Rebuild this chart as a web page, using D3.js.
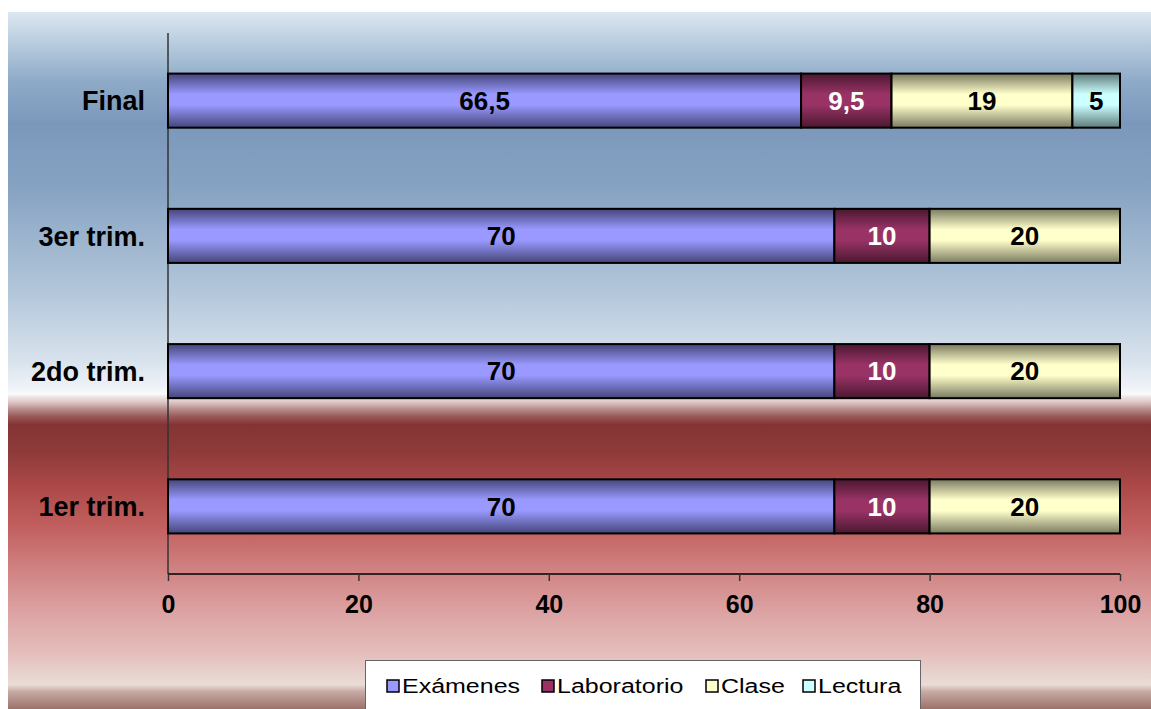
<!DOCTYPE html>
<html><head><meta charset="utf-8">
<script src="https://cdn.jsdelivr.net/npm/d3@7"></script>
<style>body{margin:0;background:#fff}svg{display:block;font-family:Arial,"Liberation Sans",sans-serif}</style>
</head><body><svg id="c" width="1151" height="709"></svg>
<script>
const categories = ["Final","3er trim.","2do trim.","1er trim."];
const seriesNames = ["Exámenes","Laboratorio","Clase","Lectura"];
const examenes = [66.5,70,70,70];
const laboratorio = [9.5,10,10,10];
const clase = [19,20,20,20];
const lectura = [5,0,0,0];
const xTicks = [0,20,40,60,80,100];
const valueLabels = [["66,5","70","70","70"],["9,5","10","10","10"],["19","20","20","20"],["5","","",""]];

const colors = ["#9999ff","#993366","#ffffcc","#ccffff"];
const darks = ["#45457a","#4a1830","#7a7a60","#5e7a7a"];
const labelColors = ["#000","#fff","#000","#000"];

const svg = d3.select("#c");
const defs = svg.append("defs");

const bg = defs.append("linearGradient").attr("id","bg").attr("x1",0).attr("y1",0).attr("x2",0).attr("y2",1);
const bgStops = [[0,"#dce7f1"],[0.04,"#bccfe0"],[0.1,"#8eaac8"],[0.16,"#7b98bc"],[0.25,"#86a2c2"],[0.4,"#b2c6da"],[0.5,"#d8e2ec"],[0.54,"#f0f3f8"],[0.5485,"#fafbfd"],[0.55,"#f4eeee"],[0.56,"#dcc4c4"],[0.57,"#b88c8c"],[0.58,"#9a5a5a"],[0.592,"#843434"],[0.63,"#8e3a3a"],[0.68,"#ac4848"],[0.74,"#c26060"],[0.8,"#d08282"],[0.86,"#dca2a2"],[0.92,"#e4bebc"],[0.965,"#eadcd6"],[0.975,"#c8aaa4"],[1,"#9a726a"]];
bgStops.forEach(s=>bg.append("stop").attr("offset",s[0]).attr("stop-color",s[1]));
svg.append("rect").attr("x",8).attr("y",12).attr("width",1143).attr("height",697).attr("fill","url(#bg)");

colors.forEach((c,i)=>{
  const g = defs.append("linearGradient").attr("id","g"+i).attr("x1",0).attr("y1",0).attr("x2",0).attr("y2",1);
  g.append("stop").attr("offset",0).attr("stop-color",darks[i]);
  g.append("stop").attr("offset",0.38).attr("stop-color",c);
  g.append("stop").attr("offset",0.58).attr("stop-color",c);
  g.append("stop").attr("offset",1).attr("stop-color",darks[i]);
});

const x = d3.scaleLinear().domain([0,100]).range([168,1120]);
const y = d3.scaleBand().domain(categories).range([33,574]).paddingInner(0.6).paddingOuter(0.3);

const series = [examenes,laboratorio,clase,lectura];
const stackData = categories.map((c,j)=>{ const o={cat:c}; seriesNames.forEach((s,i)=>o[s]=series[i][j]); return o;});
const stacked = d3.stack().keys(seriesNames)(stackData);

svg.append("line").attr("x1",x(0)).attr("x2",x(0)).attr("y1",33).attr("y2",574).attr("stroke","#333").attr("stroke-width",1.5);

stacked.forEach((layer,i)=>{
  const g = svg.append("g");
  layer.forEach((d,j)=>{
    if(d[1]-d[0]<=0) return;
    g.append("rect").attr("x",x(d[0])).attr("y",y(d.data.cat)).attr("width",x(d[1])-x(d[0])).attr("height",y.bandwidth())
      .attr("fill","url(#g"+i+")").attr("stroke","#000").attr("stroke-width",2);
    g.append("text").attr("x",(x(d[0])+x(d[1]))/2).attr("y",y(d.data.cat)+y.bandwidth()/2).attr("dy","0.36em")
      .attr("text-anchor","middle").attr("font-weight","bold").attr("font-size",26).attr("fill",labelColors[i]).text(valueLabels[i][j]);
  });
});

const xa = svg.append("g").attr("transform","translate(0,574)").call(d3.axisBottom(x).tickValues(xTicks).tickSize(7).tickPadding(14).tickFormat(d3.format("d")));
xa.select(".domain").attr("stroke","#000").attr("stroke-width",1.5).attr("d","M168,0H1120");
xa.selectAll(".tick line").attr("stroke","#333").attr("stroke-width",1.5);
xa.selectAll(".tick text").attr("font-size",25).attr("font-weight","bold").attr("fill","#000").attr("font-family","Arial,'Liberation Sans',sans-serif");

svg.append("g").selectAll("text").data(categories).join("text")
  .attr("x",145).attr("y",d=>y(d)+y.bandwidth()/2).attr("dy","0.36em").attr("text-anchor","end")
  .attr("font-weight","bold").attr("font-size",27).attr("fill","#000").text(d=>d);

svg.append("rect").attr("x",365.5).attr("y",660.5).attr("width",555).attr("height",60).attr("fill","#fff").attr("stroke","#666").attr("stroke-width",1);
const legX = [387,542,706,803];
const lg = svg.append("g").selectAll("g").data(seriesNames).join("g").attr("transform",(d,i)=>`translate(${legX[i]},686)`);
lg.append("rect").attr("x",0).attr("y",-6).attr("width",12).attr("height",12).attr("fill",(d,i)=>colors[i]).attr("stroke","#000").attr("stroke-width",1.5);
lg.append("text").attr("transform","translate(15,0) scale(1.25,1)").attr("dy","0.36em").attr("font-size",20).attr("fill","#000").text(d=>d);
</script></body></html>
